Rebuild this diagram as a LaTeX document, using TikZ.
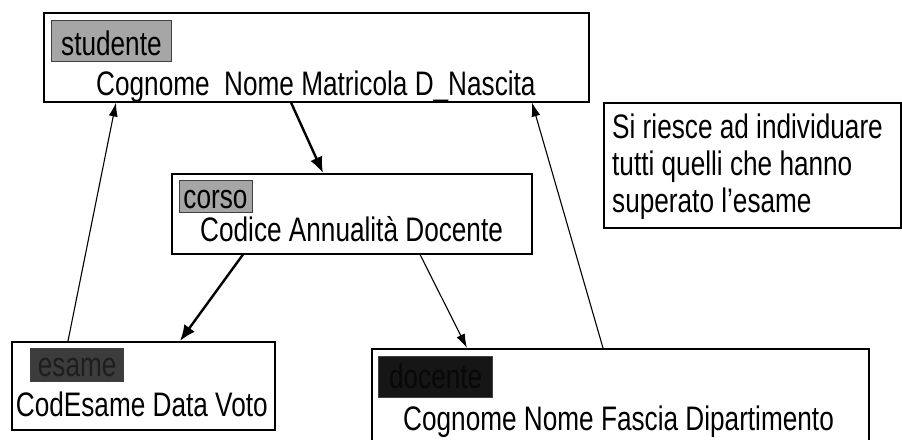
\documentclass[tikz,border=0pt]{standalone}
\usepackage{fontspec}
\setmainfont[FakeStretch=0.77]{Liberation Sans}
\usetikzlibrary{arrows.meta,calc}
\definecolor{lgray}{HTML}{A6A6A6}
\definecolor{dgray}{HTML}{3C3C3C}
\definecolor{dtext}{HTML}{1E1E1E}
\definecolor{vdark}{HTML}{161616}
\definecolor{vdtext}{HTML}{080808}
\tikzset{
  box/.style={draw=black, line width=1.5pt, fill=white, inner sep=0pt, anchor=north west},
  lab/.style={draw=black!75, line width=0.8pt, inner xsep=0pt, inner ysep=0pt, anchor=base west, font=\fontsize{34}{34}\selectfont},
  txt/.style={inner sep=0pt, anchor=base west, font=\fontsize{34}{34}\selectfont},
  thinarrow/.style={line width=1.1pt, -{Latex[length=14pt,width=9pt]}},
  thickarrow/.style={line width=2.4pt, -{Latex[length=16pt,width=13pt]}},
}
\begin{document}
\begin{tikzpicture}[x=1pt,y=-1pt]
\useasboundingbox (0,0) rectangle (902,439);
\clip (0,0) rectangle (902,439);
\fill[white] (0,0) rectangle (902,439);
% boxes
\node[box, minimum width=545pt, minimum height=89pt] (stud) at (43,12) {};
\node[box, minimum width=360pt, minimum height=80pt] (corso) at (171,173) {};
\node[box, minimum width=263pt, minimum height=88pt] (esame) at (11,341) {};
\node[box, minimum width=497pt, minimum height=130pt] (doc) at (371,348) {};
\node[box, minimum width=297pt, minimum height=125pt] (note) at (603,102) {};
% labels
\node[lab, fill=lgray, minimum width=120pt, text height=35pt, text depth=6.7pt] (studlab) at (51,55) {studente};
\node[lab, fill=lgray, minimum width=73pt, text height=28pt, text depth=4.3pt] (corsolab) at (178.6,208) {corso};
\node[lab, fill=dgray, text=dtext, minimum width=93pt, text height=28.4pt, text depth=5pt] (esamelab) at (30.3,376.7) {esame};
\node[lab, fill=vdark, text=vdtext, minimum width=114pt, text height=32pt, text depth=9pt] (doclab) at (378.3,388) {docente};
% attribute texts
\node[txt] (studattr) at (96,95) {Cognome\ \ Nome Matricola D\_Nascita};
\node[txt] (corsoattr) at (200,241) {Codice Annualità Docente};
\node[txt] (esameattr) at (15.7,416.7) {CodEsame Data Voto};
\node[txt] (docattr) at (403,430) {Cognome Nome Fascia Dipartimento};
\node[txt] (note1) at (612,138) {Si riesce ad individuare};
\node[txt] (note2) at (612,175) {tutti quelli che hanno};
\node[txt] (note3) at (612,212) {superato l’esame};
% connectors
\draw[thinarrow] ([xshift=57pt]esame.north west) -- ([xshift=73pt]stud.south west);
\draw[thickarrow] ([xshift=248pt]stud.south west) -- ([xshift=152pt]corso.north west);
\draw[thickarrow] ([xshift=72pt]corso.south west) -- ([xshift=169pt]esame.north west);
\draw[thinarrow] ([xshift=249pt]corso.south west) -- ([xshift=96pt]doc.north west);
\draw[thinarrow] ([xshift=232pt]doc.north west) -- ([xshift=489pt]stud.south west);
\end{tikzpicture}
\end{document}
